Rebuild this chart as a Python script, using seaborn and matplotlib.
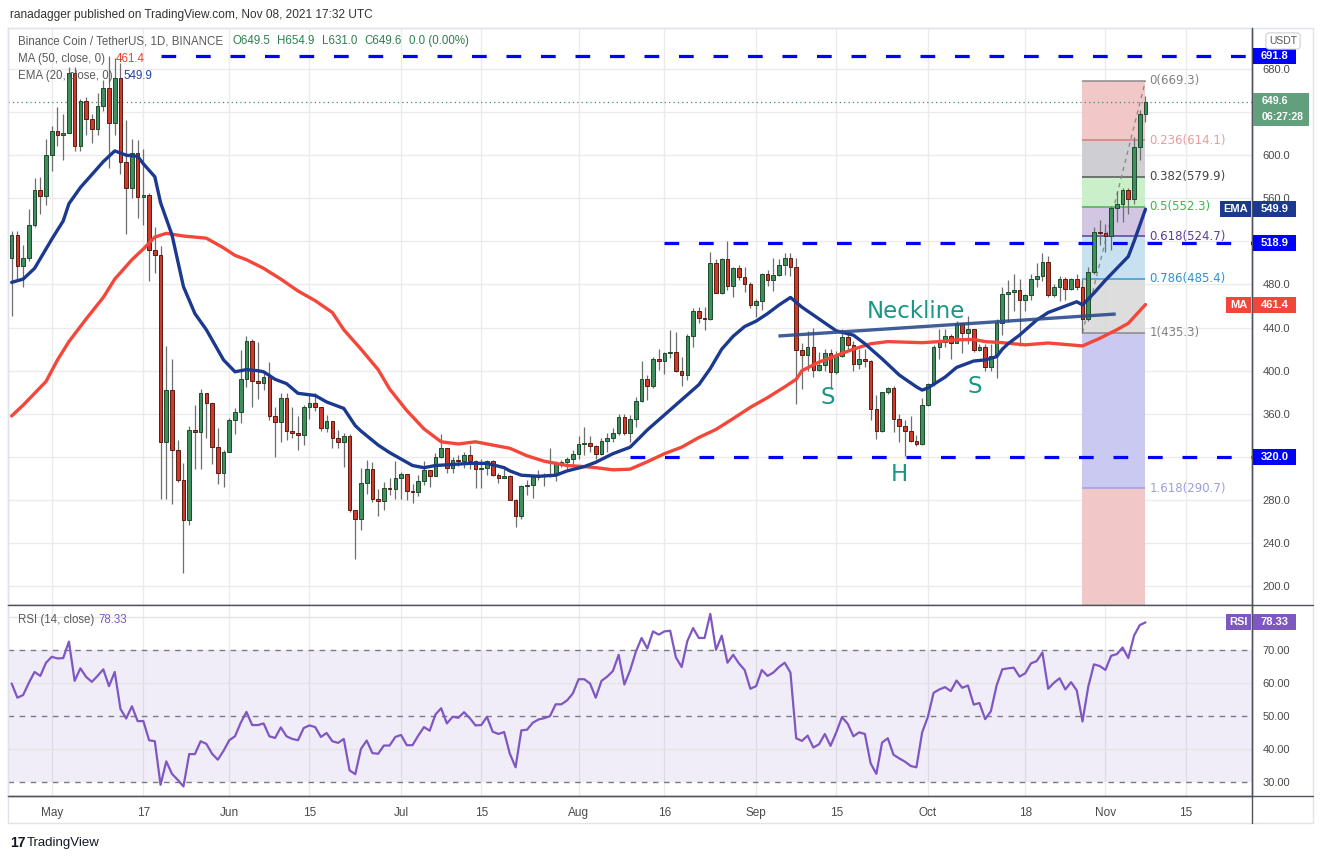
import numpy as np
import pandas as pd
import matplotlib
matplotlib.use("Agg")
import matplotlib.pyplot as plt
import matplotlib.dates as mdates
from matplotlib.patches import Rectangle
from matplotlib.lines import Line2D
import seaborn as sns

# BNB / USDT daily candles
start_date = "2021-04-24"
first_open = 505.0
close = [526, 497, 505, 535, 568, 562, 600, 622, 619, 621,
         676, 609, 650, 634, 624, 646, 662, 630, 672, 594,
         570, 602, 561, 563, 512, 507, 334, 382, 326, 299,
         261, 345, 343, 379, 370, 329, 305, 325, 354, 362,
         392, 428, 390, 389, 394, 358, 352, 375, 344, 342,
         340, 366, 370, 366, 347, 353, 338, 334, 339, 271,
         262, 296, 309, 281, 279, 291, 290, 300, 304, 288,
         287, 298, 308, 302, 320, 328, 310, 317, 316, 322,
         316, 309, 310, 316, 303, 300, 302, 280, 265, 293,
         294, 301, 302, 303, 304, 314, 315, 318, 323, 332,
         333, 330, 323, 335, 338, 342, 357, 342, 355, 372,
         392, 386, 411, 409, 416, 417, 400, 396, 432, 455,
         449, 448, 500, 472, 504, 479, 495, 487, 480, 461,
         465, 490, 484, 489, 498, 505, 496, 419, 415, 422,
         401, 405, 416, 399, 414, 431, 424, 406, 411, 409,
         364, 344, 380, 384, 355, 349, 344, 335, 332, 368,
         388, 422, 427, 432, 426, 444, 435, 439, 419, 422,
         403, 414, 444, 471, 473, 475, 466, 470, 485, 488,
         501, 470, 478, 485, 476, 485, 478, 448, 492, 529,
         528, 525, 551, 555, 568, 559, 608, 638, 649.6]
high = [530, 530, 517, 550, 579, 580, 615, 627, 645, 638,
        682, 682, 652, 654, 638, 658, 670, 691.8, 690, 686,
        633, 615, 614, 606, 565, 533, 516, 423, 411, 336,
        314, 349, 368, 383, 379, 370, 347, 326, 356, 365,
        419, 432, 429, 427, 399, 408, 366, 379, 379, 366,
        358, 368, 377, 379, 366, 359, 353, 345, 342, 341,
        271, 310, 317, 315, 290, 297, 300, 316, 306, 304,
        295, 303, 316, 308, 324, 341, 328, 320, 322, 325,
        331, 317, 318, 317, 317, 305, 309, 303, 281, 294,
        299, 302, 308, 305, 328, 316, 317, 320, 326, 339,
        348, 339, 331, 338, 342, 347, 360, 360, 359, 376,
        409, 396, 413, 420, 417, 438, 436, 413, 434, 458,
        459, 459, 510, 504, 505, 520, 496, 498, 496, 482,
        467, 491, 493, 505, 504, 509, 509, 505, 426, 437,
        440, 417, 420, 420, 418, 439, 436, 428, 420, 420,
        410, 377, 380, 385, 386, 360, 354, 358, 340, 375,
        389, 424, 439, 439, 434, 446, 443, 451, 439, 425,
        425, 425, 448, 478, 484, 490, 485, 471, 490, 500,
        509, 506, 480, 488, 487, 486, 490, 485, 496, 533,
        540, 536, 553, 567, 570, 570, 617, 642, 654.9]
low = [451, 485, 478, 502, 533, 545, 554, 585, 609, 596,
       621, 604, 604, 619, 611, 619, 641, 588, 619, 583,
       527, 560, 542, 535, 483, 491, 281, 281, 276, 297,
       212, 257, 309, 309, 338, 313, 295, 292, 325, 341,
       351, 385, 366, 374, 382, 354, 320, 334, 336, 338,
       326, 331, 355, 363, 344, 343, 328, 328, 311, 269,
       225, 252, 286, 278, 265, 271, 285, 281, 281, 280,
       277, 284, 294, 292, 302, 319, 305, 305, 312, 310,
       309, 291, 291, 303, 302, 296, 300, 280, 255, 262,
       285, 282, 299, 293, 301, 298, 311, 309, 312, 318,
       322, 325, 318, 322, 325, 334, 340, 340, 334, 348,
       371, 373, 384, 401, 397, 412, 399, 386, 391, 422,
       444, 438, 447, 472, 471, 475, 468, 484, 473, 458,
       450, 456, 479, 474, 488, 489, 488, 369, 383, 400,
       394, 400, 400, 383, 397, 413, 419, 400, 402, 403,
       354, 337, 343, 378, 343, 334, 321, 334, 330, 331,
       367, 386, 411, 422, 411, 426, 416, 425, 417, 418,
       400, 400, 393, 433, 445, 455, 423, 455, 466, 478,
       483, 468, 468, 465, 466, 475, 475, 435.3, 446, 490,
       517, 510, 512, 538, 538, 545, 555, 596, 631.0]

# EMA(20) and MA(50) read at sample days (days after start_date)
ema_day = [0, 2, 4, 5, 7, 9, 10, 12, 14, 16, 18, 20, 22, 23, 25, 26, 28, 30, 32, 34,
           37, 39, 41, 43, 44, 46, 48, 50, 53, 55, 58, 60, 61, 64, 66, 68, 70, 72, 74, 77,
           80, 83, 86, 87, 89, 92, 95, 97, 100, 102, 105, 108, 111, 114, 117, 120, 122, 124, 126, 128,
           130, 132, 134, 136, 138, 141, 144, 147, 149, 152, 155, 158, 159, 160, 163, 165, 168, 170, 172, 173,
           174, 176, 179, 181, 183, 186, 187, 189, 191, 193, 195, 196, 198]
ema_val = [482, 485, 495, 504, 522, 539, 555, 570, 582, 594, 604, 600, 599, 592, 580, 556, 526, 478, 453, 438,
           410, 399, 401, 400, 399, 392, 388, 379, 377, 371, 365, 349, 344, 331, 324, 318, 312, 310, 312, 313,
           314, 314, 310, 307, 303, 302, 303, 307, 311, 315, 323, 329, 345, 359, 373, 387, 402, 420, 432, 441,
           446, 453, 461, 468, 459, 448, 437, 433, 425, 411, 396, 385, 382, 384, 394, 403, 409, 410, 413, 420,
           425, 433, 447, 454, 458, 464, 461, 472, 484, 495, 506, 520, 549.9]
ma_day = [0, 2, 6, 8, 10, 13, 16, 18, 21, 23, 25, 27, 30, 34, 37, 39, 41, 44, 47, 50,
          53, 56, 58, 61, 64, 66, 69, 72, 75, 78, 81, 84, 87, 90, 93, 97, 100, 102, 105, 108,
          111, 114, 117, 120, 123, 126, 129, 132, 135, 137, 138, 141, 144, 147, 150, 153, 156, 159, 162, 165,
          168, 170, 173, 177, 181, 187, 190, 193, 195, 198]
ma_val = [358, 368, 390, 410, 427, 448, 468, 485, 503, 513, 524, 527.5, 525, 523, 514, 507, 503, 495, 485, 474,
          465, 454, 438, 420, 401, 383, 363, 346, 334, 332, 334, 331, 328, 321, 316, 312, 311, 310, 308, 308.6,
          315.5, 323, 329, 338, 345.5, 355.6, 366, 375, 385, 392, 400, 408, 414, 420, 425, 427, 426.5, 426, 427, 428.7,
          429, 427, 426, 424, 425.7, 423, 430, 438, 444, 461.4]

# RSI(14), one value per candle
rsi = [59.8, 55.5, 56.3, 60.0, 63.3, 62.1, 66.1, 67.9, 67.4, 67.5,
       72.5, 60.6, 64.4, 61.8, 60.3, 62.1, 64.1, 59.0, 63.3, 52.1,
       49.2, 52.9, 48.4, 48.4, 42.6, 42.3, 29.1, 36.2, 32.4, 30.6,
       28.6, 38.4, 38.4, 42.3, 41.5, 38.5, 36.7, 39.4, 42.6, 43.8,
       47.9, 51.2, 47.2, 47.2, 47.7, 43.8, 43.3, 46.5, 43.8, 43.0,
       42.6, 46.3, 47.1, 46.6, 43.6, 44.8, 42.3, 41.8, 43.0, 33.5,
       32.3, 40.0, 42.5, 38.7, 38.5, 41.0, 41.0, 43.6, 44.2, 41.1,
       41.1, 44.0, 46.6, 45.5, 50.4, 52.3, 47.7, 49.7, 49.4, 51.1,
       49.3, 47.1, 47.2, 49.7, 45.2, 44.5, 45.1, 38.5, 34.4, 45.6,
       45.8, 47.9, 48.9, 49.3, 49.9, 53.5, 53.5, 54.7, 56.8, 61.1,
       61.1, 59.8, 55.5, 60.6, 61.9, 63.6, 68.5, 59.5, 63.8, 69.4,
       73.6, 70.4, 75.6, 74.6, 75.6, 75.8, 67.7, 64.8, 72.7, 76.6,
       73.6, 73.6, 80.9, 70.0, 74.3, 66.1, 68.5, 65.9, 63.9, 58.2,
       59.0, 63.9, 62.1, 63.1, 64.8, 66.1, 63.1, 43.2, 42.4, 44.0,
       40.4, 41.4, 44.5, 40.9, 45.0, 49.6, 47.6, 43.8, 45.0, 44.5,
       35.6, 32.4, 41.9, 43.2, 38.2, 37.1, 36.1, 34.8, 34.4, 45.0,
       49.7, 57.0, 58.0, 58.7, 57.5, 60.7, 58.5, 59.2, 53.4, 53.9,
       49.0, 51.4, 59.2, 64.1, 64.4, 64.6, 61.9, 62.9, 65.9, 66.6,
       69.2, 58.2, 60.0, 61.4, 58.0, 60.2, 57.7, 48.3, 58.8, 65.6,
       65.1, 63.9, 68.2, 68.7, 70.7, 67.5, 74.3, 77.5, 78.33]

fib_ratio = ["0", "0.236", "0.382", "0.5", "0.618", "0.786", "1", "1.618"]
fib_price = [669.3, 614.1, 579.9, 552.3, 524.7, 485.4, 435.3, 290.7]
fib_day = [187, 198]

level_price = [691.8, 518.9, 320.0]
level_from = [26, 114, 108]

neck_day = [133.9, 192.8]
neck_price = [432.2, 452.6]

date_ticks = ["2021-05-01", "2021-05-17", "2021-06-01", "2021-06-15", "2021-07-01",
              "2021-07-15", "2021-08-01", "2021-08-16", "2021-09-01", "2021-09-15",
              "2021-10-01", "2021-10-18", "2021-11-01", "2021-11-15"]
date_labels = ["May", "17", "Jun", "15", "Jul", "15", "Aug", "16", "Sep", "15",
               "Oct", "18", "Nov", "15"]
price_ticks = list(range(200, 681, 40))
rsi_ticks = [30, 40, 50, 60, 70, 80]
# tick labels that sit under the value tags on the right scale
price_hidden = [320, 520, 640]
rsi_hidden = [80]

W, H = 1324, 860
sns.set_style("white")
plt.rcParams["font.family"] = ["Liberation Sans", "DejaVu Sans"]

n = len(close)
d0 = mdates.date2num(pd.Timestamp(start_date))
x = d0 + np.arange(n)
o = np.array([first_open] + close[:-1], dtype=float)
c = np.array(close, dtype=float)
hi = np.maximum(np.array(high, dtype=float), np.maximum(o, c))
lo = np.minimum(np.array(low, dtype=float), np.minimum(o, c))

fig = plt.figure(figsize=(W / 100, H / 100), dpi=100)
ax = fig.add_axes([8 / W, 1 - 605 / H, 1244 / W, 577 / H])
ax2 = fig.add_axes([8 / W, 1 - 796 / H, 1244 / W, 191 / H], sharex=ax)

ymin, ymax = 182.55, 718.05
ax.set_ylim(ymin, ymax)
ax.set_xlim(d0 - 0.64, d0 + 216.6)
ax2.set_ylim(25.7, 83.6)

# grid
tick_x = mdates.date2num(pd.to_datetime(date_ticks))
for a in (ax, ax2):
    for t in tick_x:
        a.axvline(t, color="#ebebeb", lw=1, zorder=0)
for p in price_ticks:
    ax.axhline(p, color="#ebebeb", lw=1, zorder=0)

# fibonacci retracement box
fx0, fx1 = d0 + fib_day[0], d0 + fib_day[1]
fib_fill = ["#f1c3c3", "#cbcbd0", "#c6efc6", "#cfc2e1", "#c3dff0", "#dadada", "#c5c5f1", "#f1c3c3"]
fib_line = ["#8a8a8a", "#dc7b7b", "#555555", "#4caf50", "#5b3b9e", "#3a98d5", "#8a8a8a", "#a0a0e4"]
fib_text = ["#808080", "#e99a9a", "#444444", "#3bb54a", "#5b3d99", "#2f90d3", "#808080", "#9c9ce2"]
edges = fib_price + [ymin]
for i in range(len(fib_price)):
    ax.add_patch(Rectangle((fx0, edges[i + 1]), fx1 - fx0, edges[i] - edges[i + 1],
                           fc=fib_fill[i], ec="none", alpha=0.92, zorder=1))
for i, p in enumerate(fib_price):
    ax.hlines(p, fx0, fx1, color=fib_line[i], lw=1.1, zorder=1.5)
    ax.text(fx1 + 0.7, p, f"{fib_ratio[i]}({p:.1f})", color=fib_text[i], fontsize=8.5,
            va="center", ha="left", zorder=7, family="DejaVu Sans")
ax.plot([fx0, fx1], [fib_price[-2], fib_price[0]], color="#8c8c8c", lw=1,
        ls=(0, (3, 3)), zorder=1.6)

# candles
up = c >= o
body_lo = np.minimum(o, c)
body_h = np.maximum(np.abs(c - o), 0.9)
ax.vlines(x, lo, hi, color="#6e6e6e", lw=0.9, zorder=3)
ax.bar(x[up], body_h[up], bottom=body_lo[up], width=0.64, color="#3f8f5c",
       edgecolor="#1f4a2e", linewidth=0.7, zorder=4)
ax.bar(x[~up], body_h[~up], bottom=body_lo[~up], width=0.64, color="#cf3b2a",
       edgecolor="#5a1b12", linewidth=0.7, zorder=4)

# moving averages
ma_df = pd.DataFrame({"date": d0 + np.array(ma_day, dtype=float), "value": ma_val})
ema_df = pd.DataFrame({"date": d0 + np.array(ema_day, dtype=float), "value": ema_val})
sns.lineplot(data=ma_df, x="date", y="value", ax=ax, color="#f4473a", linewidth=2.4, zorder=5)
sns.lineplot(data=ema_df, x="date", y="value", ax=ax, color="#1b3a8f", linewidth=2.4, zorder=5)

# neckline and pattern labels
ax.plot(d0 + np.array(neck_day), neck_price, color="#2b4c8c", lw=2.4, alpha=0.9,
        solid_capstyle="butt", zorder=5.5)
teal = "#179786"
for lx, ly, txt in [(157.9, 454.5, "Neckline"), (142.6, 374.7, "S"),
                    (155.0, 303.2, "H"), (168.2, 384.9, "S")]:
    ax.text(d0 + lx, ly, txt, color=teal, fontsize=16.5, ha="center", va="center",
            family="DejaVu Sans", zorder=7)

# horizontal levels
xr = ax.get_xlim()[1]
for p, f in zip(level_price, level_from):
    ax.hlines(p, d0 + f, xr, colors="#0000ff", lw=2.3, linestyles=[(0, (4.6, 6.2))], zorder=6)
ax.axhline(close[-1], color="#3e8e5e", lw=0.9, ls=(0, (1, 2.5)), zorder=2)

# rsi pane
ax2.axhspan(30, 70, color="#7e57c2", alpha=0.1, lw=0, zorder=0)
for lv in (40, 60, 80):
    ax2.axhline(lv, color="#e4e4e4", lw=1, zorder=0.5)
for lv in (30, 50, 70):
    ax2.axhline(lv, color="#787b86", lw=1, ls=(0, (4, 4)), zorder=1)
rsi_df = pd.DataFrame({"date": x, "rsi": rsi})
sns.lineplot(data=rsi_df, x="date", y="rsi", ax=ax2, color="#7e57c2", linewidth=1.6, zorder=3)

# axes styling
for a in (ax, ax2):
    a.set_xlabel("")
    a.set_ylabel("")
    a.yaxis.tick_right()
    a.spines["left"].set_color("#e0e3eb")
    a.spines["top"].set_color("#e0e3eb")
    a.spines["right"].set_color("#50535e")
    a.spines["bottom"].set_color("#50535e")
    for s in a.spines.values():
        s.set_linewidth(1)
ax2.spines["top"].set_visible(False)

ax.set_xticks(tick_x)
ax.tick_params(axis="x", length=0, labelbottom=False)
ax2.set_xticks(tick_x)
ax2.set_xticklabels(date_labels)
ax2.tick_params(axis="x", length=0, pad=8, labelsize=8.5, labelcolor="#4a4a4a")

ax.set_yticks(price_ticks)
ax.set_yticklabels(["" if p in price_hidden else f"{p:.1f}" for p in price_ticks])
ax.tick_params(axis="y", length=0, pad=7.5, labelsize=8, labelcolor="#4a4a4a")
ax2.set_yticks(rsi_ticks)
ax2.set_yticklabels(["" if v in rsi_hidden else f"{v:.2f}" for v in rsi_ticks])
ax2.tick_params(axis="y", length=0, pad=7.5, labelsize=8, labelcolor="#4a4a4a")
ax.set_xlim(d0 - 0.64, d0 + 216.6)


def fig_y(axis, v):
    return axis.transData.transform((axis.get_xlim()[0], v))[1] / H


def tag(axis, v, label, fc, x0=1253, x1=1296, h=16):
    yc = fig_y(axis, v)
    fig.add_artist(Rectangle((x0 / W, yc - h / 2 / H), (x1 - x0) / W, h / H,
                             transform=fig.transFigure, fc=fc, ec="none", zorder=20))
    fig.text((x0 + x1) / 2 / W, yc, label, color="white", fontsize=8, weight="bold",
             ha="center", va="center", zorder=21)


tag(ax, 691.8, "691.8", "#0000ff")
tag(ax, 518.9, "518.9", "#0000ff")
tag(ax, 320.0, "320.0", "#0000ff")
tag(ax, ema_val[-1], "549.9", "#1b3a8f")
tag(ax, ema_val[-1], "EMA", "#1b3a8f", x0=1220, x1=1251)
tag(ax, ma_val[-1], "461.4", "#f0463b")
tag(ax, ma_val[-1], "MA", "#f0463b", x0=1226, x1=1251)
tag(ax2, rsi[-1], "78.33", "#7e57c2")
tag(ax2, rsi[-1], "RSI", "#7e57c2", x0=1226, x1=1251)

# last price box (two lines)
yc = fig_y(ax, close[-1])
fig.add_artist(Rectangle((1253 / W, yc - 24 / H), 56 / W, 33 / H, transform=fig.transFigure,
                         fc="#62a07d", ec="none", zorder=20))
fig.text(1262 / W, yc + 1 / H, "649.6", color="white", fontsize=7.6, weight="bold", ha="left",
         va="center", zorder=21)
fig.text(1262 / W, yc - 15 / H, "06:27:28", color="white", fontsize=7.6, weight="bold",
         ha="left", va="center", zorder=21)

fig.text(1283 / W, 1 - 41 / H, "USDT", fontsize=7.5, color="#555555", ha="center", va="center",
         bbox=dict(boxstyle="round,pad=0.3", fc="white", ec="#cfcfcf", lw=0.8), zorder=21)

# frame lines
frame = "#e0e3eb"
dark = "#50535e"
for (xa, ya, xb, yb, col) in [(8, 28, 1313, 28, frame), (1313, 28, 1313, 823, frame),
                              (8, 823, 1313, 823, frame), (8, 28, 8, 823, frame),
                              (8, 605, 1313, 605, dark), (8, 796, 1313, 796, dark),
                              (1252, 28, 1252, 823, dark)]:
    fig.add_artist(Line2D([xa / W, xb / W], [1 - ya / H, 1 - yb / H], color=col, lw=1,
                          transform=fig.transFigure, zorder=15))

# header and legends
fig.text(10 / W, 1 - 15 / H, "ranadagger published on TradingView.com, Nov 08, 2021 17:32 UTC",
         fontsize=8.6, color="#333333", va="center")
gray = "#5a5a5a"
fs = 8.3
fig.text(18 / W, 1 - 41 / H, "Binance Coin / TetherUS, 1D, BINANCE", fontsize=fs, color=gray,
         va="center", zorder=22)
for xp, tok in zip([232, 277, 322, 364, 409],
                   ["O649.5", "H654.9", "L631.0", "C649.6", "0.0 (0.00%)"]):
    fig.text(xp / W, 1 - 41 / H, tok, fontsize=fs, color="#2e7d50", va="center", zorder=22)
fig.text(18 / W, 1 - 59 / H, "MA (50, close, 0)", fontsize=fs, color=gray, va="center", zorder=22)
fig.text(116 / W, 1 - 59 / H, "461.4", fontsize=fs, color="#f23d31", va="center", zorder=22)
fig.text(18 / W, 1 - 76 / H, "EMA (20, close, 0)", fontsize=fs, color=gray, va="center", zorder=22)
fig.text(123 / W, 1 - 76 / H, "549.9", fontsize=fs, color="#2442a8", va="center", zorder=22)
fig.text(18 / W, 1 - 620 / H, "RSI (14, close)", fontsize=fs, color=gray, va="center", zorder=22)
fig.text(98 / W, 1 - 620 / H, "78.33", fontsize=fs, color="#7e57c2", va="center", zorder=22)

fig.text(10 / W, 1 - 843 / H, "17", fontsize=10, weight="heavy", color="#131722", va="center")
fig.text(27 / W, 1 - 843 / H, "TradingView", fontsize=9.5, color="#131722", va="center")

fig.savefig("out.png", dpi=100)
